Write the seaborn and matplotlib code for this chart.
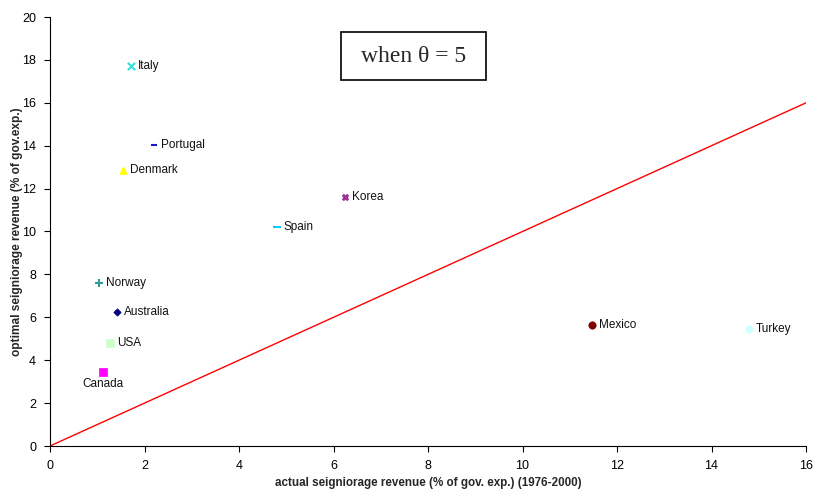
import matplotlib
matplotlib.use("Agg")
import matplotlib.pyplot as plt
import matplotlib.patches as mpatches
import seaborn as sns
import pandas as pd

countries = ["Italy", "Portugal", "Denmark", "Korea", "Spain", "Norway",
             "Australia", "USA", "Canada", "Mexico", "Turkey"]
actual = [1.71, 2.20, 1.55, 6.24, 4.80, 1.04, 1.41, 1.27, 1.12, 11.47, 14.79]
optimal = [17.72, 14.03, 12.87, 11.61, 10.21, 7.60, 6.25, 4.80, 3.45, 5.64, 5.45]
colors = ["#33e0e0", "#1a1acc", "#ffff00", "#993399", "#00ccff", "#339999",
          "#000080", "#ccffcc", "#ff00ff", "#800000", "#ccffff"]
markers = ["x", "_", "^", "X", "_", "+", "D", "s", "s", "o", "o"]
sizes = [28, 20, 30, 22, 40, 28, 14, 30, 28, 28, 28]

df = pd.DataFrame({"country": countries, "actual": actual, "optimal": optimal})

sns.set_theme(style="white")
plt.rcParams["font.family"] = ["Liberation Sans", "DejaVu Sans"]

fig = plt.figure(figsize=(8.14, 4.90), dpi=100)
ax = fig.add_axes([50 / 814, 44 / 490, 756 / 814, 429 / 490])

# 45-degree reference line
sns.lineplot(x=[0, 16], y=[0, 16], color="red", linewidth=1.0, ax=ax)

for i, row in df.iterrows():
    m = markers[i]
    kw = dict(marker=m, s=sizes[i], color=colors[i], ax=ax, legend=False, zorder=3)
    if m in ("x", "+", "_"):
        kw["linewidth"] = 1.5
    else:
        kw["edgecolor"] = colors[i]
        kw["linewidth"] = 0.5
    sns.scatterplot(data=row.to_frame().T.astype({"actual": float, "optimal": float}),
                    x="actual", y="optimal", **kw)
    if row["country"] == "Canada":
        ax.annotate(row["country"], (row["actual"], row["optimal"]),
                    xytext=(0, -4), textcoords="offset points",
                    ha="center", va="top", fontsize=8.5, color="#111111")
    else:
        ax.annotate(row["country"], (row["actual"], row["optimal"]),
                    xytext=(5, 0), textcoords="offset points",
                    ha="left", va="center", fontsize=8.5, color="#111111")

ax.set_xlim(0, 16)
ax.set_ylim(0, 20)
ax.set_xticks(range(0, 17, 2))
ax.set_yticks(range(0, 21, 2))
ax.tick_params(axis="both", which="both", direction="out", length=4, width=0.8,
               labelsize=9, colors="black", bottom=True, left=True, pad=6)
for side in ("top", "right"):
    ax.spines[side].set_visible(False)
for side in ("left", "bottom"):
    ax.spines[side].set_color("black")
    ax.spines[side].set_linewidth(0.8)

ax.set_xlabel("actual seigniorage revenue (% of gov. exp.) (1976-2000)",
              fontsize=8.4, fontweight="bold", labelpad=4)
ax.set_ylabel("optimal seigniorage revenue (% of gov.exp.)",
              fontsize=8.6, fontweight="bold", labelpad=-1)

# boxed annotation in the upper middle
fig.patches.append(mpatches.Rectangle((341 / 814, 1 - 80 / 490), 145 / 814, 48 / 490,
                                      transform=fig.transFigure, facecolor="white",
                                      edgecolor="black", linewidth=1.2, zorder=5))
fig.text(413.5 / 814, 1 - 56 / 490, "when \u03b8 = 5",
         ha="center", va="center", fontsize=17, family="Liberation Serif", zorder=6)

fig.savefig("out.png", dpi=100)
